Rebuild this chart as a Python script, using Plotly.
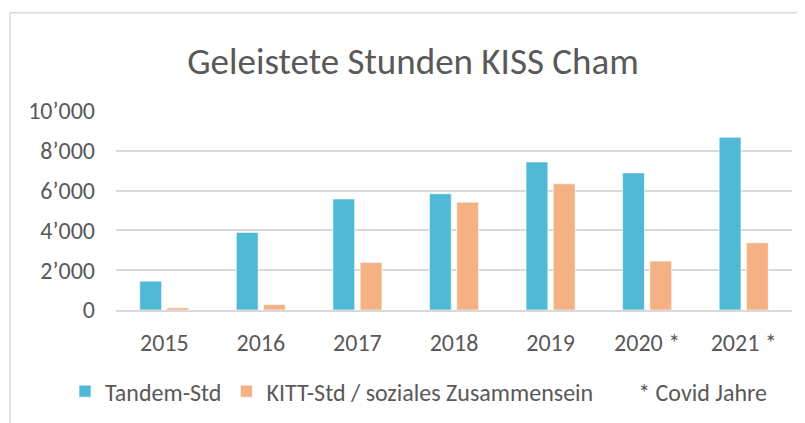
import plotly.graph_objects as go

years = ["2015", "2016", "2017", "2018", "2019", "2020 *", "2021 *"]
tandem = [1450, 3900, 5580, 5840, 7440, 6890, 8680]
kitt = [110, 270, 2390, 5420, 6340, 2460, 3380]
y_ticks = [0, 2000, 4000, 6000, 8000, 10000]
y_tick_labels = ["0", "2\u2019000", "4\u2019000", "6\u2019000", "8\u2019000", "10\u2019000"]

FONT = "Carlito, Calibri, Lato, sans-serif"
GREY = "#595959"

fig = go.Figure()
fig.add_trace(go.Bar(x=years, y=tandem, name="Tandem-Std",
                     marker=dict(color="#4FB9D6", line=dict(color="rgba(255,255,255,0.6)", width=1))))
fig.add_trace(go.Bar(x=years, y=kitt, name="KITT-Std / soziales Zusammensein",
                     marker=dict(color="#F4B183", line=dict(color="rgba(255,255,255,0.6)", width=1))))
fig.add_trace(go.Scatter(x=[None], y=[None], mode="markers", name="* Covid Jahre",
                         marker=dict(color="rgba(0,0,0,0)", size=1)))

# page has an 8px body margin, so the figure is drawn 8px smaller and offset
OFF = 8
W, H = 805 - OFF, 423 - OFF
L, T = 116 - OFF, 111 - OFF
R = W - (792 - OFF)
B = H - (310.3 - OFF)
pw, ph = W - L - R, H - T - B

def px_x(px):
    return (px - OFF - L) / pw

def px_y(py):
    return (H - B - (py - OFF)) / ph

fig.update_layout(
    width=W, height=H,
    margin=dict(l=L, r=R, t=T, b=B, pad=0, autoexpand=False),
    paper_bgcolor="white", plot_bgcolor="white",
    font=dict(family=FONT, color=GREY, size=24),
    title=dict(text="Geleistete Stunden KISS Cham", font=dict(size=37, color=GREY, family=FONT),
               x=(413 - OFF) / W, xanchor="center", y=1 - (61 - OFF) / H, yanchor="middle"),
    barmode="group", bargap=0.435, bargroupgap=0.2,
    showlegend=True,
    legend=dict(orientation="h", x=px_x(65), xanchor="left", y=px_y(392), yanchor="middle",
                font=dict(size=24, color=GREY, family=FONT), bgcolor="rgba(0,0,0,0)"),
    xaxis=dict(showgrid=False, showline=True, linecolor="#d9d9d9", linewidth=1.5,
               ticks="", tickfont=dict(size=24, color=GREY), ticklabelstandoff=10, fixedrange=True),
    yaxis=dict(range=[0, 10000], tickvals=y_ticks, ticktext=y_tick_labels,
               showgrid=True, gridcolor="#d9d9d9", gridwidth=1.5, zeroline=False,
               ticks="", tickfont=dict(size=24, color=GREY), ticklabelstandoff=20, fixedrange=True),
    shapes=[
        dict(type="line", xref="paper", yref="paper", x0=px_x(10), x1=px_x(830), y0=px_y(12.5), y1=px_y(12.5),
             line=dict(color="#d9d9d9", width=1.5)),
        dict(type="line", xref="paper", yref="paper", x0=px_x(10), x1=px_x(10), y0=px_y(12.5), y1=px_y(440),
             line=dict(color="#d9d9d9", width=1.5)),
    ],
)

fig.write_html("out.html")
